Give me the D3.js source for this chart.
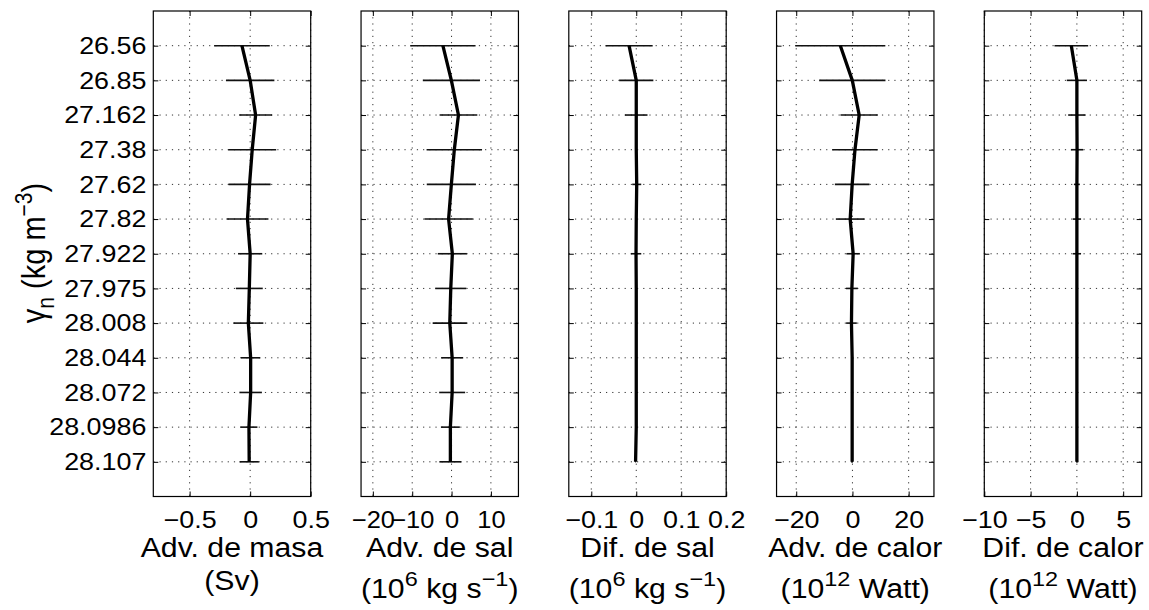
<!DOCTYPE html>
<html><head><meta charset="utf-8">
<script src="https://cdn.jsdelivr.net/npm/d3@7"></script>
<style>
body{margin:0;background:#fff}
text{font-family:"Liberation Sans",Arial,Helvetica,sans-serif;fill:#000}
</style>
</head><body>
<svg id="c" width="1149" height="610"></svg>
<script>
// density levels (gamma_n)
const levels = ["26.56","26.85","27.162","27.38","27.62","27.82","27.922","27.975","28.008","28.044","28.072","28.0986","28.107"];

// Adv. de masa (Sv)
const masaVal = [-0.068, 0.0, 0.045, 0.017, -0.005, -0.022, 0.0, -0.007, -0.015, 0.004, 0.004, -0.01, -0.008];
const masaErr = [0.23, 0.2, 0.136, 0.198, 0.174, 0.173, 0.1, 0.111, 0.124, 0.08, 0.093, 0.07, 0.08];
// Adv. de sal (1e6 kg/s)
const salAdvVal = [-2.2, -0.05, 1.75, 0.7, -0.05, -0.75, 0.2, -0.2, -0.45, 0.15, 0.15, -0.3, -0.3];
const salAdvErr = [8.3, 7.25, 4.8, 7.05, 6.25, 6.15, 3.7, 3.95, 4.35, 2.8, 3.3, 2.4, 2.8];
// Dif. de sal (1e6 kg/s)
const salDifVal = [-0.016, 0, 0, 0, 0.001, 0, -0.0005, 0, 0, 0, 0, 0, -0.0015];
const salDifErr = [0.0525, 0.038, 0.025, 0.002, 0.01, 0.002, 0.0116, 0.001, 0.001, 0.001, 0.001, 0.001, 0.001];
// Adv. de calor (1e12 W)
const calAdvVal = [-4.3, -0.05, 2.4, 0.9, -0.1, -0.8, 0.25, -0.2, -0.35, -0.1, -0.1, -0.1, -0.1];
const calAdvErr = [16, 11.8, 6.65, 8.1, 6.15, 5.1, 2.4, 2.1, 1.9, 0.4, 0.4, 0.3, 0.3];
// Dif. de calor (1e12 W)
const calDifVal = [-0.6, 0, 0, 0.02, 0, 0, 0, 0, 0, 0, 0, 0, 0];
const calDifErr = [1.82, 1.09, 0.94, 0.67, 0.32, 0.45, 0.45, 0.1, 0.1, 0.1, 0.1, 0.1, 0.1];

// axis limits and ticks
const xDomains = [[-0.8,0.5],[-23,17],[-0.15,0.2],[-27,29],[-10,7]];
const xTicks = [[-0.5,0,0.5],[-20,-10,0,10],[-0.1,0,0.1,0.2],[-20,0,20],[-10,-5,0,5]];
const titles = ["Adv. de masa","Adv. de sal","Dif. de sal","Adv. de calor","Dif. de calor"];
// unit line: [text, isSuperscript] segments
const units = [
  [["(Sv)",0]],
  [["(10",0],["6",1],[" kg s",0],["\u22121",1],[")",0]],
  [["(10",0],["6",1],[" kg s",0],["\u22121",1],[")",0]],
  [["(10",0],["12",1],[" Watt)",0]],
  [["(10",0],["12",1],[" Watt)",0]]
];
const series = [
  [masaVal, masaErr],[salAdvVal, salAdvErr],[salDifVal, salDifErr],[calAdvVal, calAdvErr],[calDifVal, calDifErr]
];

const svg = d3.select("#c");
const yTop = 11, yBot = 496.5, pw = 157.4, left0 = 153.3, step = 207.75;
const SX = 1.12;
const y = d3.scaleLinear().domain([0, levels.length + 1]).range([yTop, yBot]);
const lvIdx = levels.map((d,i)=>i+1);
const fmt = d => d < 0 ? "\u2212" + String(Math.abs(d)) : String(d);

series.forEach(([vals, errs], p) => {
  const L = left0 + p*step, R = L + pw;
  const x = d3.scaleLinear().domain(xDomains[p]).range([L, R]);
  const g = svg.append("g");

  // grid
  const grid = g.append("g").attr("stroke","#333").attr("stroke-width",1).attr("stroke-dasharray","1.2,5");
  grid.selectAll(".gv").data(xTicks[p]).join("line").attr("class","gv")
    .attr("x1", d=>x(d)).attr("x2", d=>x(d)).attr("y1", yTop).attr("y2", yBot);
  grid.selectAll(".gh").data(lvIdx).join("line").attr("class","gh")
    .attr("x1", L).attr("x2", R).attr("y1", d=>y(d)).attr("y2", d=>y(d));

  // axes ticks (inward)
  const ax = (gen, tx, ty) => {
    const a = g.append("g").attr("transform", `translate(${tx},${ty})`).call(gen);
    a.select(".domain").remove();
    a.selectAll(".tick line").attr("stroke","#000").attr("stroke-width",1);
    return a;
  };
  const xb = ax(d3.axisBottom(x).tickValues(xTicks[p]).tickFormat(fmt).tickSize(-5).tickPadding(14), 0, yBot);
  xb.selectAll(".tick text").attr("font-size", 24).attr("transform", `scale(${p===1?1.06:SX},1)`);
  xb.attr("font-family", null).attr("font-size", null);
  ax(d3.axisTop(x).tickValues(xTicks[p]).tickFormat("").tickSize(-5), 0, yTop);
  const ylAxis = d3.axisLeft(y).tickValues(lvIdx).tickSize(-5).tickPadding(6.2)
    .tickFormat(p === 0 ? (d => levels[d-1]) : "");
  const yl = ax(ylAxis, L, 0);
  yl.selectAll(".tick text").attr("font-size", 24).attr("transform", `scale(${SX},1)`);
  yl.attr("font-family", null).attr("font-size", null);
  ax(d3.axisRight(y).tickValues(lvIdx).tickSize(-5).tickFormat(""), R, 0);

  // error bars
  g.append("g").selectAll("line").data(vals).join("line")
    .attr("x1", (d,i)=>x(d - errs[i])).attr("x2", (d,i)=>x(d + errs[i]))
    .attr("y1", (d,i)=>y(i+1)).attr("y2", (d,i)=>y(i+1))
    .attr("stroke","#111").attr("stroke-width",1.6);

  // line
  g.append("path").datum(vals)
    .attr("d", d3.line().x(d=>x(d)).y((d,i)=>y(i+1)))
    .attr("fill","none").attr("stroke","#000").attr("stroke-width",3.3).attr("stroke-linejoin","round");

  // box
  g.append("rect").attr("x", L).attr("y", yTop).attr("width", pw).attr("height", yBot-yTop)
    .attr("fill","none").attr("stroke","#000").attr("stroke-width",1.2);

  // labels
  const cx = (L + R)/2;
  const t1 = svg.append("g").attr("transform", `translate(${cx},557) scale(${SX},1)`);
  t1.append("text").attr("text-anchor","middle").attr("font-size",27).text(titles[p]);
  const hasSup = units[p].some(s=>s[1]);
  const t2 = svg.append("g").attr("transform", `translate(${cx},${hasSup?598:590}) scale(${SX},1)`);
  const tx2 = t2.append("text").attr("text-anchor","middle").attr("font-size",27);
  let prevSup = 0;
  units[p].forEach(([s, sup]) => {
    const ts = tx2.append("tspan").text(s);
    if (sup) ts.attr("font-size",21);
    const dy = (sup - prevSup) * -12;
    if (dy) ts.attr("dy", dy);
    prevSup = sup;
  });
});

// y axis label
const yg = svg.append("g").attr("transform", `translate(45,253) rotate(-90) scale(1,${SX})`);
const yt = yg.append("text").attr("text-anchor","middle").attr("font-size",29);
yt.append("tspan").text("\u03b3");
yt.append("tspan").attr("font-size",21).attr("dy",8).text("n");
yt.append("tspan").attr("dy",-8).text(" (kg m");
yt.append("tspan").attr("font-size",21).attr("dy",-12).text("\u22123");
yt.append("tspan").attr("dy",12).text(")");
</script>
</body></html>
